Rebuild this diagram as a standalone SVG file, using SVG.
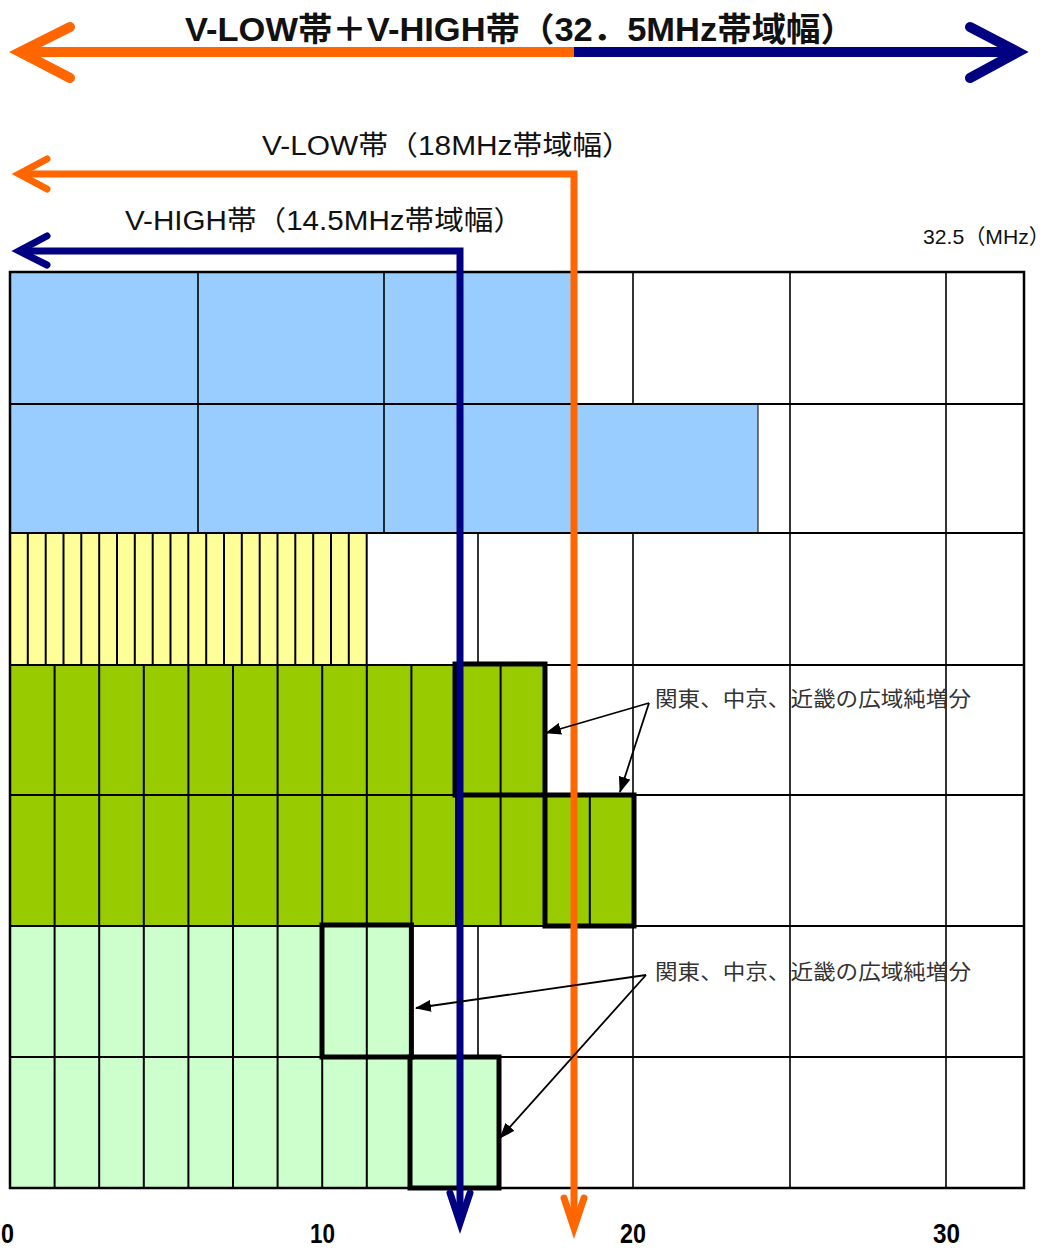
<svg xmlns="http://www.w3.org/2000/svg" width="1055" height="1250" viewBox="0 0 1055 1250">
<style>
.grid{stroke:#000;stroke-width:2;fill:none}
.thin{stroke:#000;stroke-width:1.6}
.box{stroke:#000;stroke-width:5;fill:none}
.lbl{font-family:"Liberation Sans","Noto Sans CJK JP",sans-serif;fill:#111}
.ann{font-family:"Noto Sans CJK JP","Liberation Sans",sans-serif;fill:#333;font-size:21px}
.tick{font-family:"Liberation Sans","DejaVu Sans",sans-serif;font-weight:bold;font-size:27px;fill:#000}
.ar{stroke:#000;stroke-width:1.8;fill:none}
</style>
<defs>
<marker id="tri" markerWidth="16" markerHeight="12" refX="15" refY="6" orient="auto" markerUnits="userSpaceOnUse">
<path d="M0,0 L16,6 L0,12 Z" fill="#000"/>
</marker>
</defs>
<rect width="1055" height="1250" fill="#fff"/>

<g id="grid">
<rect x="10" y="272" width="1014" height="916" fill="#fff"/>
<g id="row1">
<rect x="10" y="272" width="562" height="132" fill="#99CCFF"/>
<line class="thin" x1="198" y1="272" x2="198" y2="404"/>
<line class="thin" x1="384" y1="272" x2="384" y2="404"/>
<line class="thin" x1="633" y1="272" x2="633" y2="404"/>
<line class="thin" x1="790" y1="272" x2="790" y2="404"/>
<line class="thin" x1="946" y1="272" x2="946" y2="404"/>
</g>
<g id="row2">
<rect x="10" y="404" width="748" height="129" fill="#99CCFF" stroke="#000" stroke-width="1"/>
<line class="thin" x1="198" y1="404" x2="198" y2="533"/>
<line class="thin" x1="384" y1="404" x2="384" y2="533"/>
<line class="thin" x1="790" y1="404" x2="790" y2="533"/>
<line class="thin" x1="946" y1="404" x2="946" y2="533"/>
</g>
<g id="row3">
<rect x="10" y="533" width="356.7" height="132" fill="#FFFF99"/>
<path class="grid" d="M27.8,533V665M45.7,533V665M63.5,533V665M81.3,533V665M99.2,533V665M117,533V665M134.8,533V665M152.7,533V665M170.5,533V665M188.3,533V665M206.2,533V665M224,533V665M241.8,533V665M259.7,533V665M277.5,533V665M295.3,533V665M313.2,533V665M331,533V665M348.8,533V665M366.7,533V665"/>
<line class="thin" x1="478" y1="533" x2="478" y2="665"/>
<line class="thin" x1="633" y1="533" x2="633" y2="665"/>
<line class="thin" x1="790" y1="533" x2="790" y2="665"/>
<line class="thin" x1="946" y1="533" x2="946" y2="665"/>
</g>
<g id="row4">
<rect x="10" y="665" width="535.2" height="130" fill="#99CC00"/>
<path class="grid" d="M54.6,665V795M99.2,665V795M143.8,665V795M188.4,665V795M233,665V795M277.6,665V795M322.2,665V795M366.8,665V795M411.4,665V795M456,665V795M500.6,665V795"/>
<line class="thin" x1="633" y1="665" x2="633" y2="795"/>
<line class="thin" x1="790" y1="665" x2="790" y2="795"/>
<line class="thin" x1="946" y1="665" x2="946" y2="795"/>
</g>
<g id="row5">
<rect x="10" y="795" width="624.4" height="131" fill="#99CC00"/>
<path class="grid" d="M54.6,795V926M99.2,795V926M143.8,795V926M188.4,795V926M233,795V926M277.6,795V926M322.2,795V926M366.8,795V926M411.4,795V926M456,795V926M500.6,795V926M589.8,795V926"/>
<line class="thin" x1="790" y1="795" x2="790" y2="926"/>
<line class="thin" x1="946" y1="795" x2="946" y2="926"/>
</g>
<g id="row6">
<rect x="10" y="926" width="401.4" height="131" fill="#CCFFCC"/>
<path class="grid" d="M54.6,926V1057M99.2,926V1057M143.8,926V1057M188.4,926V1057M233,926V1057M277.6,926V1057M322.2,926V1057M366.8,926V1057"/>
<line class="thin" x1="478" y1="926" x2="478" y2="1057"/>
<line class="thin" x1="633" y1="926" x2="633" y2="1057"/>
<line class="thin" x1="790" y1="926" x2="790" y2="1057"/>
<line class="thin" x1="946" y1="926" x2="946" y2="1057"/>
</g>
<g id="row7">
<rect x="10" y="1057" width="490.6" height="131" fill="#CCFFCC"/>
<path class="grid" d="M54.6,1057V1188M99.2,1057V1188M143.8,1057V1188M188.4,1057V1188M233,1057V1188M277.6,1057V1188M322.2,1057V1188M366.8,1057V1188"/>
<line class="thin" x1="633" y1="1057" x2="633" y2="1188"/>
<line class="thin" x1="790" y1="1057" x2="790" y2="1188"/>
<line class="thin" x1="946" y1="1057" x2="946" y2="1188"/>
</g>
<path class="grid" d="M10,404H1024M10,533H1024M10,665H1024M10,795H1024M10,926H1024M10,1057H1024"/>
<rect x="10" y="272" width="1014" height="916" fill="none" stroke="#000" stroke-width="2.5"/>
<g id="boxes">
<rect class="box" x="455" y="664" width="90" height="131"/>
<rect class="box" x="545" y="795" width="89" height="131"/>
<rect class="box" x="322" y="925" width="89.4" height="132"/>
<rect class="box" x="410" y="1057" width="89" height="131"/>
</g>
</g>

<g id="connectors">
<line x1="22" y1="52" x2="575" y2="52" stroke="#FF6600" stroke-width="10"/>
<line x1="574" y1="52" x2="1016" y2="52" stroke="#000080" stroke-width="10"/>
<polyline points="70,27 20,52 70,78" fill="none" stroke="#FF6600" stroke-width="10" stroke-linecap="round" stroke-linejoin="miter"/>
<polyline points="970,27 1018,52 970,78" fill="none" stroke="#000080" stroke-width="10" stroke-linecap="round" stroke-linejoin="miter"/>
<polyline points="22,174 574,174 574,1226" fill="none" stroke="#FF6600" stroke-width="7"/>
<polyline points="47,159 19,174 47,189" fill="none" stroke="#FF6600" stroke-width="7" stroke-linecap="round"/>
<polyline points="564,1198 574,1228 584,1198" fill="none" stroke="#FF6600" stroke-width="7" stroke-linecap="round"/>
<polyline points="22,251 460,251 460,1220" fill="none" stroke="#000080" stroke-width="7"/>
<polyline points="47,236 19,251 47,265" fill="none" stroke="#000080" stroke-width="7" stroke-linecap="round"/>
<polyline points="450,1193 460,1223 470,1193" fill="none" stroke="#000080" stroke-width="7" stroke-linecap="round"/>
<line class="ar" x1="649" y1="703" x2="546" y2="733" marker-end="url(#tri)"/>
<line class="ar" x1="649" y1="703" x2="620" y2="792" marker-end="url(#tri)"/>
<line class="ar" x1="646" y1="975" x2="416" y2="1008" marker-end="url(#tri)"/>
<line class="ar" x1="646" y1="975" x2="500" y2="1138" marker-end="url(#tri)"/>
</g>

<g id="labels">
<text class="lbl" x="185" y="41" font-size="33" font-weight="bold" fill="#000" textLength="670" lengthAdjust="spacingAndGlyphs">V-LOW帯＋V-HIGH帯（32．5MHz帯域幅）</text>
<text class="lbl" x="262" y="155" font-size="27" textLength="370" lengthAdjust="spacingAndGlyphs">V-LOW帯（18MHz帯域幅）</text>
<text class="lbl" x="125" y="230" font-size="27" textLength="398" lengthAdjust="spacingAndGlyphs">V-HIGH帯（14.5MHz帯域幅）</text>
<text class="lbl" x="923" y="244" font-size="21" textLength="127" lengthAdjust="spacingAndGlyphs">32.5（MHz）</text>
<text class="ann" x="655" y="706" textLength="316" lengthAdjust="spacingAndGlyphs">関東、中京、近畿の広域純増分</text>
<text class="ann" x="655" y="979" textLength="316" lengthAdjust="spacingAndGlyphs">関東、中京、近畿の広域純増分</text>
<text class="tick" x="1" y="1243" textLength="13" lengthAdjust="spacingAndGlyphs">0</text>
<text class="tick" x="310" y="1243" textLength="25" lengthAdjust="spacingAndGlyphs">10</text>
<text class="tick" x="620" y="1243" textLength="26" lengthAdjust="spacingAndGlyphs">20</text>
<text class="tick" x="933" y="1243" textLength="27" lengthAdjust="spacingAndGlyphs">30</text>
</g>
</svg>
